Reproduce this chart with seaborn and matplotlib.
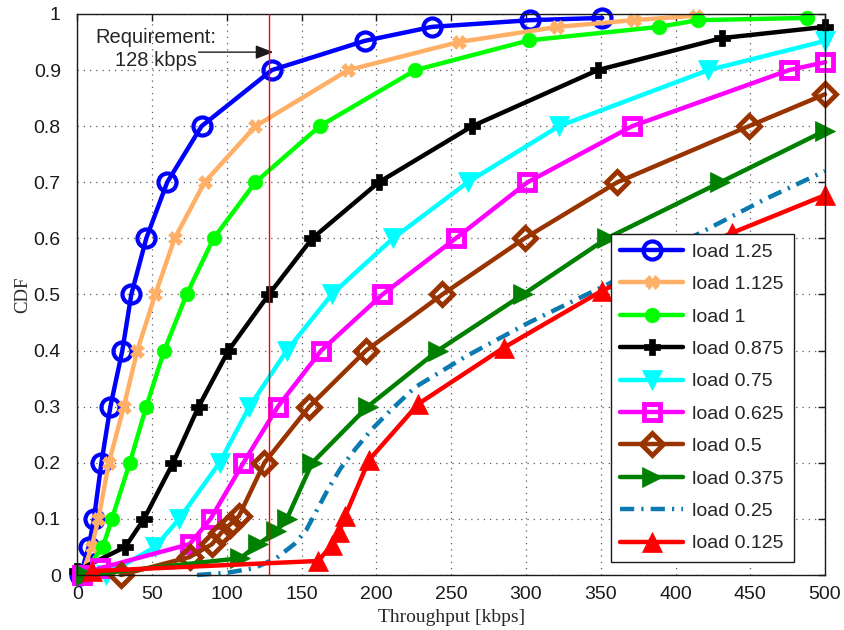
import matplotlib
matplotlib.use("Agg")
import matplotlib.pyplot as plt
import seaborn as sns

# Throughput CDF per offered load (kbps vs. cumulative probability)
load_125_x = [2, 7.5, 11, 16, 22, 30, 36, 46, 60, 83, 130, 192, 237, 303, 351]
load_125_y = [0, 0.05, 0.1, 0.2, 0.3, 0.4, 0.5, 0.6, 0.7, 0.8, 0.9, 0.952, 0.977, 0.989, 0.993]

load_1125_x = [3, 9.5, 14, 21, 31, 40, 52, 65, 85, 119, 181, 255, 321, 372, 414]
load_1125_y = [0, 0.05, 0.1, 0.2, 0.3, 0.4, 0.5, 0.6, 0.7, 0.8, 0.9, 0.95, 0.977, 0.989, 0.997]

load_1_x = [3, 17, 23, 35, 46, 58, 73, 91, 119, 162, 226, 302, 389, 415, 488]
load_1_y = [0, 0.05, 0.1, 0.2, 0.3, 0.4, 0.5, 0.6, 0.7, 0.8, 0.9, 0.953, 0.977, 0.989, 0.993]

load_0875_x = [0, 32, 44.5, 64, 81, 101, 128, 157, 201.5, 264, 348, 431, 500]
load_0875_y = [0.008, 0.05, 0.1, 0.2, 0.3, 0.4, 0.5, 0.6, 0.7, 0.8, 0.9, 0.957, 0.977]

load_075_x = [19, 52, 68, 95, 115, 140, 170, 211, 261, 322, 422, 500]
load_075_y = [0, 0.05, 0.1, 0.2, 0.3, 0.4, 0.5, 0.6, 0.7, 0.8, 0.9, 0.952]

load_0625_x = [3, 15, 75, 89, 111, 134, 163, 204, 253, 301, 371, 476, 500]
load_0625_y = [0, 0.012, 0.055, 0.1, 0.2, 0.3, 0.4, 0.5, 0.6, 0.7, 0.8, 0.9, 0.914]

load_05_x = [29, 75, 90, 96, 102, 108, 125, 155, 193, 244, 299, 361, 449, 500]
load_05_y = [0, 0.032, 0.055, 0.075, 0.09, 0.105, 0.2, 0.3, 0.4, 0.5, 0.6, 0.7, 0.8, 0.857]

load_0375_x = [6, 109, 121, 133, 140, 157, 194, 241, 298, 354, 430, 500]
load_0375_y = [0, 0.03, 0.055, 0.078, 0.1, 0.2, 0.3, 0.4, 0.5, 0.6, 0.7, 0.792]

load_025_x = [80, 100, 118, 133, 145, 153, 161, 168, 176, 186, 197, 210, 226, 260, 302, 356, 413, 460, 500]
load_025_y = [0, 0.004, 0.012, 0.03, 0.055, 0.08, 0.12, 0.155, 0.19, 0.225, 0.26, 0.295, 0.335, 0.39, 0.45, 0.52, 0.605, 0.67, 0.72]

load_0125_x = [10, 161, 170, 175, 179, 195, 228, 285, 351, 438, 500]
load_0125_y = [0.007, 0.025, 0.053, 0.077, 0.105, 0.205, 0.305, 0.405, 0.507, 0.61, 0.677]

labels = ["load 1.25", "load 1.125", "load 1", "load 0.875", "load 0.75",
          "load 0.625", "load 0.5", "load 0.375", "load 0.25", "load 0.125"]
colors = ["#0000FF", "#FFB066", "#00FF00", "#000000", "#00FFFF",
          "#FF00FF", "#993300", "#008000", "#0A7AB0", "#FF0000"]

x_ticks = [0, 50, 100, 150, 200, 250, 300, 350, 400, 450, 500]
y_ticks = [0, 0.1, 0.2, 0.3, 0.4, 0.5, 0.6, 0.7, 0.8, 0.9, 1]
y_tick_labels = ["0", "0.1", "0.2", "0.3", "0.4", "0.5", "0.6", "0.7", "0.8", "0.9", "1"]

requirement_kbps = 128

sns.set_theme(style="white")
plt.rcParams["font.family"] = ["Liberation Sans", "DejaVu Sans"]

fig = plt.figure(figsize=(8.44, 6.30), dpi=100)
ax = fig.add_axes([0.0918, 0.0873, 0.8857, 0.8905])

xs = [load_125_x, load_1125_x, load_1_x, load_0875_x, load_075_x,
      load_0625_x, load_05_x, load_0375_x, load_025_x, load_0125_x]
ys = [load_125_y, load_1125_y, load_1_y, load_0875_y, load_075_y,
      load_0625_y, load_05_y, load_0375_y, load_025_y, load_0125_y]

marker_styles = [
    dict(marker="o", markersize=13, markerfacecolor="none", markeredgewidth=3),
    dict(marker="X", markersize=10, markeredgewidth=0.5),
    dict(marker="o", markersize=10.5, markeredgewidth=0.5),
    dict(marker="P", markersize=11, markeredgewidth=0.5),
    dict(marker="v", markersize=15, markeredgewidth=0.5),
    dict(marker="s", markersize=12, markerfacecolor="none", markeredgewidth=3.5),
    dict(marker="D", markersize=11, markerfacecolor="none", markeredgewidth=3.5),
    dict(marker=">", markersize=15, markeredgewidth=0.5),
    dict(marker="", linestyle=(0, (3.2, 1.6, 0.5, 1.6))),
    dict(marker="^", markersize=15, markeredgewidth=0.5),
]

for x, y, lab, col, mk in zip(xs, ys, labels, colors, marker_styles):
    kws = dict(mk)
    kws.setdefault("markerfacecolor", col)
    kws["markeredgecolor"] = col
    sns.lineplot(x=x, y=y, ax=ax, sort=False, estimator=None, color=col,
                 linewidth=3.2, label=lab, clip_on=False, legend=False, **kws)

ax.axvline(requirement_kbps, color="red", linewidth=1, zorder=6)

ax.annotate("", xy=(131, 0.932), xytext=(81, 0.932),
            arrowprops=dict(arrowstyle="-|>,head_length=0.9,head_width=0.35",
                            color="k", lw=1, shrinkA=0, shrinkB=0))
ax.text(52.5, 0.938, "Requirement:\n128 kbps", ha="center", va="center",
        fontsize=14.5, linespacing=1.25)

ax.set_xlim(0, 500)
ax.set_ylim(0, 1)
ax.set_xticks(x_ticks)
ax.set_xticklabels([str(t) for t in x_ticks])
ax.set_yticks(y_ticks)
ax.set_yticklabels(y_tick_labels)
ax.tick_params(direction="in", top=True, right=True, length=5, width=1,
               labelsize=14, colors="k")
ax.tick_params(axis="y", pad=12)
ax.tick_params(axis="x", pad=8)
ax.grid(True, color="0.35", linestyle=(0, (1, 4)), linewidth=0.9)
for s in ax.spines.values():
    s.set_color("k")
    s.set_linewidth(1)

ax.set_xlabel("Throughput [kbps]", fontfamily="Liberation Serif", fontsize=14, labelpad=4)
ax.set_ylabel("CDF", fontfamily="Liberation Serif", fontsize=13.5)
ax.yaxis.set_label_coords(-0.062, 0.5)

leg = ax.legend(loc="lower right", bbox_to_anchor=(0.958, 0.023), fontsize=14,
                frameon=True, fancybox=False, edgecolor="k", framealpha=1,
                handlelength=3.2, labelspacing=0.76, borderpad=0.5,
                handletextpad=0.5, borderaxespad=0)
leg.get_frame().set_linewidth(1)

fig.savefig("out.png", dpi=100)
